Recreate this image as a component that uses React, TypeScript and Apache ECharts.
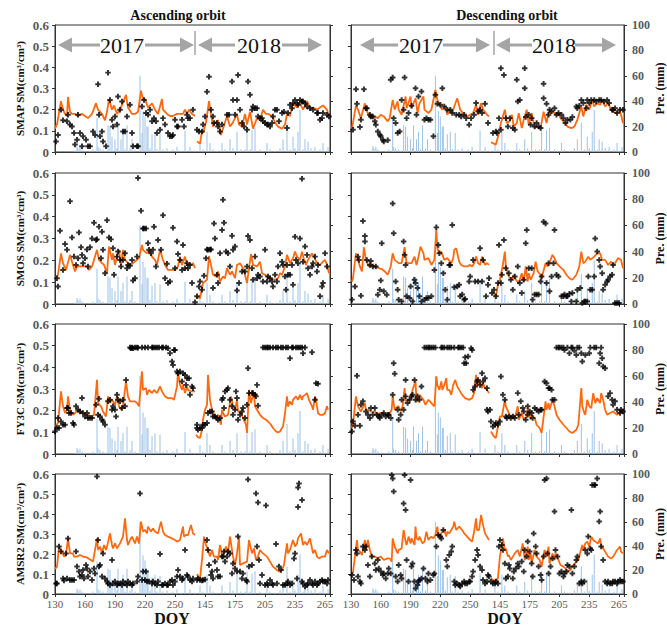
import React, { useEffect, useRef } from "react";
import * as echarts from "echarts";

type P = [number, number] | null;

const tickLabels = ["130", "160", "190", "220", "250", "145", "175", "205", "235", "265"];
const rowNames = ["SMAP SM(cm³/cm³)", "SMOS SM(cm³/cm³)", "FY3C SM(cm³/cm³)", "AMSR2 SM(cm³/cm³)"];
const colTitles = ["Ascending orbit", "Descending orbit"];
const yearLabels = ["2017", "2018"];
const rightAxisName = "Pre. (mm)";
const xAxisName = "DOY";

const precip: [number, number][] = [
  [20, 1], [22, 4.5], [23, 3], [25, 4], [27, 2], [30, 1], [35, 1], [38, 2], [42, 27], [43, 4], [45, 3], [48, 2], [50, 1],
  [53, 21], [55, 20], [57, 12], [60, 10], [62, 3], [63, 21], [66, 10], [68, 16], [70, 2], [72, 21], [75, 3], [77, 10],
  [80, 2], [85, 60], [87, 15], [88, 32], [90, 28], [92, 20], [93, 20], [95, 3], [97, 14], [100, 16], [102, 2], [105, 15],
  [108, 2], [112, 3], [115, 1], [118, 2], [122, 4], [126, 1], [130, 17], [135, 4], [140, 1], [145, 7], [148, 2], [152, 16],
  [155, 7], [158, 2], [162, 1], [167, 7], [170, 2], [175, 10], [178, 3], [182, 16], [186, 2], [190, 2], [192, 19], [195, 2],
  [197, 17], [200, 19], [205, 2], [208, 1], [212, 7], [215, 2], [220, 1], [225, 3], [228, 10], [232, 23], [235, 2], [238, 12],
  [240, 3], [243, 16], [245, 33], [248, 2], [250, 10], [253, 8], [256, 3], [260, 4], [265, 2], [268, 7], [270, 1], [273, 4],
];

const smapAscLine: P[] = [
  [0, 0.11], [2, 0.13], [6, 0.24], [8, 0.2], [10, 0.18], [12, 0.17], [13, 0.26], [15, 0.19], [17, 0.18], [20, 0.18], [23, 0.17],
  [27, 0.18], [30, 0.17], [33, 0.16], [37, 0.18], [41, 0.23], [43, 0.2], [47, 0.18], [50, 0.15], [52, 0.19], [54, 0.25], [57, 0.2],
  [59, 0.22], [62, 0.18], [65, 0.2], [71, 0.27], [73, 0.21], [77, 0.18], [80, 0.18], [83, 0.19], [86, 0.29], [88, 0.25], [90, 0.25],
  [93, 0.21], [97, 0.23], [100, 0.2], [103, 0.18], [107, 0.25], [108, 0.2], [112, 0.18], [115, 0.17], [118, 0.17], [122, 0.18],
  [125, 0.18], [128, 0.18], [130, 0.2], [132, 0.18], [134, 0.2], [137, 0.18], [140, 0.17], null,
  [142, 0.05], [145, 0.04], [147, 0.1], [148, 0.09], [151, 0.14], [154, 0.24], [156, 0.18], [158, 0.12], [160, 0.14], [163, 0.15],
  [166, 0.08], [168, 0.11], [172, 0.17], [175, 0.12], [178, 0.14], [182, 0.18], [184, 0.13], [187, 0.12], [190, 0.18], [192, 0.13],
  [195, 0.19], [198, 0.11], [202, 0.16], [205, 0.15], [208, 0.2], [211, 0.18], [213, 0.18], [217, 0.17], [220, 0.14], [223, 0.12],
  [227, 0.11], [230, 0.13], [232, 0.18], [235, 0.17], [238, 0.23], [242, 0.21], [245, 0.23], [248, 0.2], [252, 0.24], [255, 0.21],
  [258, 0.21], [262, 0.2], [265, 0.21], [268, 0.22], [272, 0.2], [274, 0.17],
];
const smapAscPts: [number, number][] = [
  [1, 0.05], [3, 0.08], [6, 0.2], [8, 0.15], [12, 0.145], [13, 0.176], [15, 0.13], [17, 0.12], [19, 0.09], [20, 0.035], [22, 0.058],
  [23, 0.176], [25, 0.09], [27, 0.027], [28, 0.074], [31, 0.058], [33, 0.027], [35, 0.027], [38, 0.097], [40, 0.08], [43, 0.32],
  [44, 0.176], [45, 0.074], [47, 0.097], [48, 0.05], [51, 0.027], [53, 0.375], [55, 0.246], [57, 0.152], [58, 0.12], [60, 0.168],
  [62, 0.13], [63, 0.262], [65, 0.2], [67, 0.239], [68, 0.097], [70, 0.097], [72, 0.168], [75, 0.223], [77, 0.09], [78, 0.027],
  [82, 0.027], [83, 0.027], [87, 0.215], [89, 0.246], [91, 0.184], [93, 0.176], [95, 0.2], [97, 0.145], [99, 0.16], [101, 0.145],
  [102, 0.09], [105, 0.105], [108, 0.16], [110, 0.13], [113, 0.09], [115, 0.074], [117, 0.074], [118, 0.08], [120, 0.152],
  [122, 0.12], [123, 0.12], [127, 0.152], [129, 0.12], [132, 0.176], [133, 0.16], [135, 0.16], [138, 0.2],
  [142, 0.105], [144, 0.097], [147, 0.097], [148, 0.13], [150, 0.168], [152, 0.285], [154, 0.356], [156, 0.2], [158, 0.168],
  [159, 0.137], [162, 0.137], [163, 0.12], [165, 0.097], [167, 0.13], [172, 0.176], [174, 0.176], [177, 0.333], [178, 0.246],
  [180, 0.176], [182, 0.246], [183, 0.364], [185, 0.2], [187, 0.137], [189, 0.12], [192, 0.105], [193, 0.333], [195, 0.27],
  [197, 0.2], [198, 0.215], [200, 0.207], [202, 0.207], [203, 0.168], [205, 0.16], [207, 0.16], [208, 0.145], [210, 0.137],
  [212, 0.13], [213, 0.13], [215, 0.12], [217, 0.137], [218, 0.168], [220, 0.2], [222, 0.2], [224, 0.145], [227, 0.184],
  [229, 0.19], [232, 0.113], [233, 0.184], [235, 0.223], [237, 0.207], [238, 0.23], [240, 0.246], [242, 0.23], [243, 0.223],
  [245, 0.246], [247, 0.239], [248, 0.239], [250, 0.23], [252, 0.215], [255, 0.207], [258, 0.2], [262, 0.184], [263, 0.184],
  [265, 0.152], [267, 0.16], [268, 0.184], [272, 0.176], [274, 0.168],
];

const smapDesLine: P[] = [
  [1, 0.11], [5, 0.22], [7, 0.2], [10, 0.16], [14, 0.23], [15, 0.2], [18, 0.176], [20, 0.16], [24, 0.168], [27, 0.16], [30, 0.176],
  [33, 0.168], [37, 0.145], [39, 0.16], [42, 0.246], [44, 0.2], [47, 0.239], [48, 0.2], [51, 0.176], [55, 0.262], [56, 0.207],
  [60, 0.262], [61, 0.207], [65, 0.254], [67, 0.184], [69, 0.23], [73, 0.262], [74, 0.2], [78, 0.184], [81, 0.2], [85, 0.293],
  [87, 0.246], [89, 0.223], [92, 0.2], [95, 0.215], [97, 0.176], [100, 0.2], [102, 0.184], [104, 0.215], [107, 0.254], [110, 0.2],
  [114, 0.176], [117, 0.168], [120, 0.176], [123, 0.184], [126, 0.223], [128, 0.176], [131, 0.23], [133, 0.2], [137, 0.176],
  [139, 0.168], null,
  [141, 0.046], [146, 0.035], [149, 0.09], [151, 0.137], [155, 0.2], [157, 0.137], [160, 0.145], [162, 0.176], [164, 0.12],
  [167, 0.137], [169, 0.184], [172, 0.113], [174, 0.152], [177, 0.2], [179, 0.129], [182, 0.184], [185, 0.113], [187, 0.12],
  [191, 0.113], [194, 0.19], [197, 0.137], [199, 0.19], [201, 0.184], [204, 0.19], [206, 0.176], [209, 0.184], [211, 0.16],
  [214, 0.145], [216, 0.137], [218, 0.12], [222, 0.113], [225, 0.12], [228, 0.152], [232, 0.215], [234, 0.168], [237, 0.223],
  [240, 0.2], [243, 0.246], [245, 0.215], [248, 0.23], [251, 0.223], [253, 0.246], [256, 0.215], [259, 0.23], [262, 0.2],
  [264, 0.19], [268, 0.184], [270, 0.2], [272, 0.176], [274, 0.137],
];
const smapDesPts: [number, number][] = [
  [2, 0.105], [5, 0.297], [6, 0.228], [9, 0.118], [10, 0.152], [13, 0.297], [15, 0.207], [16, 0.207], [19, 0.176], [20, 0.168],
  [22, 0.168], [24, 0.145], [25, 0.129], [27, 0.097], [29, 0.082], [30, 0.074], [32, 0.058], [33, 0.05], [37, 0.055], [40, 0.341],
  [42, 0.352], [43, 0.16], [45, 0.137], [47, 0.09], [49, 0.097], [51, 0.246], [53, 0.2], [54, 0.352], [56, 0.16], [58, 0.184],
  [61, 0.218], [65, 0.301], [66, 0.176], [68, 0.262], [71, 0.286], [74, 0.152], [76, 0.16], [78, 0.152], [80, 0.152], [83, 0.074],
  [85, 0.27], [87, 0.228], [90, 0.223], [92, 0.301], [94, 0.215], [97, 0.2], [100, 0.2], [102, 0.184], [106, 0.176], [109, 0.176],
  [111, 0.168], [114, 0.176], [116, 0.16], [119, 0.129], [121, 0.16], [124, 0.176], [126, 0.231], [128, 0.192], [130, 0.2],
  [132, 0.184], [135, 0.228], [138, 0.137],
  [143, 0.09], [146, 0.097], [147, 0.09], [149, 0.16], [151, 0.396], [151, 0.105], [154, 0.364], [156, 0.16], [158, 0.121],
  [160, 0.16], [163, 0.113], [165, 0.105], [167, 0.341], [168, 0.239], [170, 0.246], [175, 0.396], [175, 0.301], [176, 0.165],
  [179, 0.176], [181, 0.129], [182, 0.16], [185, 0.121], [187, 0.137], [189, 0.121], [191, 0.113], [194, 0.322], [194, 0.254],
  [197, 0.228], [199, 0.176], [200, 0.2], [202, 0.192], [205, 0.207], [207, 0.176], [209, 0.184], [212, 0.176], [214, 0.16],
  [216, 0.137], [218, 0.152], [221, 0.152], [223, 0.165], [227, 0.215], [228, 0.207], [230, 0.218], [232, 0.246], [234, 0.231],
  [237, 0.207], [238, 0.246], [240, 0.231], [242, 0.246], [245, 0.246], [247, 0.239], [250, 0.246], [252, 0.246], [255, 0.239],
  [258, 0.246], [260, 0.231], [263, 0.2], [264, 0.2], [266, 0.207], [268, 0.184], [271, 0.2], [274, 0.2],
];

const smosAscLine: P[] = [
  [1, 0.118], [3, 0.134], [6, 0.232], [8, 0.187], [11, 0.156], [15, 0.225], [18, 0.179], [20, 0.149], [22, 0.172], [25, 0.172],
  [28, 0.172], [32, 0.172], [34, 0.156], [37, 0.172], [42, 0.248], [44, 0.202], [47, 0.187], [49, 0.179], [52, 0.141], [54, 0.263],
  [57, 0.202], [58, 0.232], [60, 0.179], [62, 0.217], [64, 0.248], [66, 0.179], [68, 0.248], [70, 0.202], [73, 0.187], [75, 0.179],
  [78, 0.187], [82, 0.202], [84, 0.21], [87, 0.27], [88, 0.248], [92, 0.232], [94, 0.248], [97, 0.217], [100, 0.202], [102, 0.179],
  [105, 0.248], [108, 0.202], [110, 0.179], [113, 0.156], [117, 0.156], [120, 0.156], [123, 0.172], [125, 0.217], [127, 0.179],
  [130, 0.217], [132, 0.179], [135, 0.179], [138, 0.187], [140, 0.164], null,
  [141, 0.035], [145, 0.027], [148, 0.096], [152, 0.111], [154, 0.22], [157, 0.156], [158, 0.134], [161, 0.126], [163, 0.149],
  [165, 0.103], [168, 0.126], [170, 0.118], [172, 0.164], [175, 0.134], [177, 0.149], [180, 0.118], [182, 0.179], [185, 0.187],
  [188, 0.164], [190, 0.134], [192, 0.096], [196, 0.229], [198, 0.179], [202, 0.172], [205, 0.194], [207, 0.141], [210, 0.134],
  [214, 0.118], [220, 0.111], [223, 0.118], [225, 0.141], [227, 0.134], [230, 0.172], [232, 0.225], [235, 0.187], [238, 0.21],
  [240, 0.24], [242, 0.217], [245, 0.202], [247, 0.24], [249, 0.202], [251, 0.179], [253, 0.202], [257, 0.232], [259, 0.217],
  [262, 0.187], [265, 0.179], [268, 0.194], [270, 0.202], [272, 0.179], [274, 0.141],
];
const smosAscPts: [number, number][] = [
  [2, 0.118], [3, 0.08], [5, 0.336], [8, 0.156], [10, 0.275], [12, 0.248], [15, 0.471], [17, 0.305], [19, 0.217], [21, 0.179],
  [23, 0.21], [24, 0.327], [26, 0.26], [27, 0.225], [28, 0.187], [30, 0.21], [32, 0.25], [33, 0.172], [35, 0.26], [37, 0.3],
  [39, 0.372], [41, 0.293], [42, 0.296], [44, 0.354], [46, 0.21], [47, 0.331], [48, 0.248], [50, 0.141], [52, 0.384], [54, 0.305],
  [56, 0.296], [58, 0.255], [59, 0.134], [62, 0.217], [63, 0.24], [65, 0.202], [66, 0.172], [68, 0.202], [70, 0.232], [72, 0.164],
  [73, 0.179], [75, 0.175], [77, 0.202], [78, 0.108], [80, 0.118], [82, 0.217], [83, 0.577], [86, 0.427], [88, 0.346], [89, 0.346],
  [91, 0.346], [93, 0.278], [94, 0.248], [96, 0.232], [98, 0.248], [99, 0.354], [101, 0.172], [103, 0.293], [106, 0.248],
  [108, 0.407], [110, 0.118], [112, 0.184], [113, 0.096], [115, 0.103], [118, 0.349], [120, 0.164], [122, 0.286], [123, 0.229],
  [125, 0.202], [127, 0.156], [128, 0.27], [130, 0.164], [132, 0.187], [133, 0.164], [135, 0.179], [137, 0.096], [140, 0.008],
  [142, 0.035], [144, 0.08], [145, 0.103], [147, 0.065], [149, 0.129], [151, 0.21], [152, 0.25], [153, 0.248], [155, 0.25],
  [156, 0.25], [158, 0.073], [159, 0.369], [160, 0.3], [162, 0.134], [163, 0.096], [165, 0.232], [167, 0.339], [168, 0.478],
  [169, 0.372], [171, 0.24], [173, 0.232], [175, 0.172], [177, 0.313], [178, 0.248], [180, 0.263], [182, 0.062], [184, 0.096],
  [187, 0.149], [190, 0.149], [192, 0.172], [193, 0.311], [195, 0.293], [197, 0.164], [198, 0.111], [200, 0.217], [202, 0.118],
  [203, 0.134], [205, 0.126], [208, 0.103], [210, 0.248], [212, 0.103], [213, 0.126], [215, 0.118], [217, 0.103], [218, 0.08],
  [220, 0.134], [222, 0.103], [223, 0.172], [225, 0.232], [227, 0.194], [228, 0.179], [230, 0.126], [231, 0.065], [232, 0.179],
  [233, 0.134], [235, 0.134], [237, 0.179], [238, 0.088], [240, 0.308], [241, 0.202], [243, 0.187], [245, 0.3], [247, 0.574],
  [248, 0.194], [250, 0.263], [252, 0.225], [253, 0.164], [255, 0.134], [257, 0.172], [258, 0.187], [260, 0.217], [262, 0.149],
  [263, 0.179], [265, 0.035], [267, 0.08], [268, 0.096], [270, 0.232], [272, 0.172],
];

const smosDesLine: P[] = [
  [1, 0.103], [2, 0.118], [5, 0.232], [7, 0.202], [9, 0.172], [11, 0.149], [13, 0.26], [15, 0.202], [18, 0.172], [20, 0.179],
  [23, 0.172], [25, 0.172], [28, 0.164], [31, 0.16], [34, 0.149], [37, 0.134], [40, 0.172], [42, 0.232], [44, 0.202], [48, 0.187],
  [51, 0.187], [54, 0.26], [56, 0.187], [59, 0.187], [61, 0.187], [64, 0.217], [66, 0.179], [68, 0.217], [70, 0.263], [73, 0.232],
  [74, 0.202], [78, 0.21], [81, 0.179], [84, 0.202], [86, 0.339], [87, 0.255], [89, 0.232], [91, 0.24], [94, 0.202], [97, 0.21],
  [101, 0.187], [103, 0.21], [104, 0.248], [106, 0.255], [109, 0.194], [111, 0.179], [114, 0.172], [117, 0.172], [120, 0.179],
  [122, 0.172], [124, 0.187], [126, 0.217], [128, 0.187], [130, 0.179], [132, 0.217], [135, 0.179], [137, 0.187], [139, 0.179], null,
  [143, 0.053], [146, 0.035], [148, 0.088], [150, 0.111], [153, 0.179], [155, 0.24], [156, 0.172], [159, 0.126], [162, 0.111],
  [164, 0.134], [166, 0.111], [169, 0.096], [172, 0.141], [174, 0.103], [176, 0.172], [178, 0.103], [179, 0.141], [181, 0.111],
  [184, 0.141], [186, 0.194], [188, 0.149], [191, 0.134], [192, 0.118], [196, 0.187], [198, 0.172], [201, 0.202], [203, 0.225],
  [205, 0.21], [207, 0.187], [210, 0.172], [214, 0.156], [217, 0.134], [220, 0.118], [223, 0.111], [227, 0.134], [230, 0.172],
  [232, 0.24], [234, 0.187], [236, 0.194], [239, 0.217], [241, 0.202], [245, 0.217], [248, 0.232], [251, 0.232], [253, 0.202],
  [256, 0.202], [259, 0.179], [262, 0.194], [264, 0.179], [266, 0.187], [269, 0.21], [272, 0.202], [274, 0.164],
];
const smosDesPts: [number, number][] = [
  [1, 0.02], [4, 0.08], [7, 0.217], [8, 0.202], [10, 0.038], [12, 0.38], [14, 0.311], [14, 0.286], [16, 0.202], [19, 0.179],
  [20, 0.197], [22, 0.172], [25, 0.172], [27, 0.042], [29, 0.065], [30, 0.108], [31, 0.278], [33, 0.058], [36, 0.042], [42, 0.46],
  [43, 0.324], [45, 0.103], [47, 0.065], [48, 0.02], [51, 0.012], [53, 0.286], [54, 0.225], [55, 0.179], [56, 0.035], [59, 0.027],
  [60, 0.08], [62, 0.012], [64, 0.111], [65, 0.096], [67, 0.073], [69, 0.035], [71, 0.012], [74, 0.02], [76, 0.027], [78, 0.027],
  [81, 0.035], [84, 0.156], [86, 0.351], [88, 0.27], [89, 0.232], [91, 0.187], [93, 0.141], [95, 0.065], [97, 0.02], [99, 0.179],
  [100, 0.179], [102, 0.362], [104, 0.077], [107, 0.08], [109, 0.088], [110, 0.035], [112, 0.043], [114, 0.02], [115, 0.023],
  [119, 0.103], [120, 0.126], [123, 0.202], [125, 0.103], [128, 0.103], [130, 0.255], [132, 0.103], [133, 0.202], [136, 0.035],
  [138, 0.088], [139, 0.118],
  [142, 0.05], [144, 0.065], [146, 0.035], [148, 0.096], [149, 0.27], [151, 0.096], [152, 0.134], [154, 0.293], [156, 0.164],
  [159, 0.141], [161, 0.111], [163, 0.065], [165, 0.126], [168, 0.172], [170, 0.096], [172, 0.05], [174, 0.111], [176, 0.278],
  [177, 0.339], [179, 0.164], [182, 0.164], [183, 0.02], [185, 0.043], [187, 0.043], [189, 0.043], [191, 0.103], [192, 0.126],
  [194, 0.377], [196, 0.369], [197, 0.096], [199, 0.187], [200, 0.058], [202, 0.126], [204, 0.187], [205, 0.339], [207, 0.134],
  [209, 0.126], [212, 0.035], [214, 0.035], [215, 0.043], [217, 0.035], [218, 0.035], [220, 0.047], [222, 0.012], [223, 0.05],
  [227, 0.012], [228, 0.065], [231, 0.073], [233, 0.005], [235, 0.012], [236, 0.012], [238, 0.012], [239, 0.126], [241, 0.065],
  [243, 0.065], [245, 0.126], [246, 0.3], [248, 0.24], [250, 0.202], [251, 0.172], [253, 0.141], [254, 0.065], [256, 0.088],
  [258, 0.103], [259, 0.111], [261, 0.126], [263, 0.134], [264, 0.179], [266, 0.005], [268, 0.005], [270, 0.005],
];

const fy3cAscLine: P[] = [
  [1, 0.13], [3, 0.143], [6, 0.289], [8, 0.22], [10, 0.189], [12, 0.204], [13, 0.266], [15, 0.204], [18, 0.181], [20, 0.189],
  [23, 0.204], [27, 0.189], [30, 0.181], [33, 0.181], [37, 0.173], [39, 0.181], [42, 0.342], [43, 0.235], [46, 0.22], [48, 0.196],
  [51, 0.173], [53, 0.266], [55, 0.235], [57, 0.25], [60, 0.227], [62, 0.266], [64, 0.22], [66, 0.204], [68, 0.22], [71, 0.335],
  [73, 0.266], [75, 0.243], [78, 0.243], [80, 0.243], [82, 0.235], [84, 0.22], [87, 0.381], [88, 0.296], [91, 0.304], [92, 0.273],
  [94, 0.296], [97, 0.281], [99, 0.296], [102, 0.281], [105, 0.312], [107, 0.289], [110, 0.266], [113, 0.258], [117, 0.258],
  [119, 0.25], [122, 0.312], [123, 0.381], [125, 0.319], [127, 0.296], [128, 0.319], [130, 0.281], [132, 0.312], [133, 0.296],
  [136, 0.289], [138, 0.289], [140, 0.289], null,
  [141, 0.089], [143, 0.078], [145, 0.074], [147, 0.112], [148, 0.158], [150, 0.204], [152, 0.227], [153, 0.365], [155, 0.25],
  [157, 0.204], [158, 0.189], [161, 0.166], [163, 0.181], [166, 0.135], [167, 0.204], [168, 0.189], [170, 0.173], [173, 0.181],
  [176, 0.266], [178, 0.22], [180, 0.204], [182, 0.25], [183, 0.196], [186, 0.189], [188, 0.166], [191, 0.135], [192, 0.097],
  [194, 0.296], [196, 0.235], [198, 0.273], [199, 0.281], [200, 0.22], [202, 0.204], [205, 0.181], [208, 0.166], [211, 0.158],
  [213, 0.15], [216, 0.135], [218, 0.12], [221, 0.104], [223, 0.1], [225, 0.104], [227, 0.12], [228, 0.127], [230, 0.189],
  [232, 0.266], [233, 0.22], [235, 0.243], [237, 0.227], [238, 0.25], [241, 0.266], [243, 0.25], [245, 0.273], [247, 0.25],
  [248, 0.266], [250, 0.273], [252, 0.281], [254, 0.25], [257, 0.22], [258, 0.204], [260, 0.266], [261, 0.25], [263, 0.189],
  [265, 0.181], [268, 0.181], [270, 0.189], [272, 0.22], [273, 0.204],
];
const fy3cAscPts: [number, number][] = [
  [0, 0.104], [2, 0.12], [3, 0.166], [4, 0.12], [6, 0.15], [8, 0.135], [10, 0.135], [12, 0.212], [13, 0.212], [14, 0.189],
  [16, 0.189], [18, 0.143], [19, 0.135], [21, 0.22], [23, 0.204], [25, 0.196], [27, 0.258], [28, 0.189], [30, 0.173], [32, 0.189],
  [33, 0.166], [35, 0.166], [37, 0.166], [41, 0.227], [43, 0.181], [44, 0.255], [45, 0.173], [47, 0.158], [48, 0.15], [50, 0.135],
  [53, 0.243], [55, 0.25], [57, 0.204], [58, 0.22], [60, 0.204], [61, 0.173], [62, 0.273], [63, 0.25], [65, 0.243], [67, 0.212],
  [68, 0.25], [70, 0.22], [71, 0.342],
  [75, 0.492], [76, 0.488], [77, 0.492], [78, 0.488], [80, 0.492], [82, 0.492], [83, 0.49], [87, 0.492], [90, 0.492], [93, 0.492],
  [97, 0.492], [98, 0.492], [100, 0.492], [102, 0.492], [104, 0.492], [107, 0.492], [108, 0.492], [111, 0.492], [113, 0.488],
  [115, 0.465], [117, 0.427], [118, 0.411], [119, 0.48], [120, 0.48],
  [122, 0.381], [123, 0.373], [125, 0.381], [127, 0.335], [128, 0.373], [130, 0.365], [131, 0.319], [132, 0.35], [134, 0.35],
  [135, 0.273], [137, 0.312], [138, 0.304],
  [142, 0.135], [142, 0.12], [143, 0.112], [145, 0.12], [147, 0.12], [148, 0.135], [150, 0.135], [152, 0.143], [153, 0.189],
  [155, 0.196], [157, 0.196], [158, 0.173], [160, 0.173], [162, 0.166], [163, 0.158], [165, 0.166], [167, 0.25], [168, 0.258],
  [169, 0.212], [170, 0.289], [172, 0.296], [173, 0.304], [175, 0.25], [177, 0.22], [178, 0.181], [180, 0.204], [181, 0.289],
  [182, 0.258], [183, 0.158], [185, 0.181], [187, 0.196], [188, 0.212], [190, 0.166], [192, 0.227], [193, 0.396], [194, 0.281],
  [197, 0.281], [198, 0.281], [200, 0.273], [201, 0.266], [202, 0.319], [203, 0.223],
  [208, 0.492], [210, 0.492], [212, 0.492], [213, 0.492], [215, 0.492], [218, 0.492], [221, 0.492], [223, 0.492], [226, 0.492],
  [228, 0.492], [231, 0.492], [233, 0.492], [235, 0.442], [237, 0.492], [238, 0.492], [241, 0.492], [243, 0.492], [245, 0.492],
  [247, 0.492], [248, 0.465], [250, 0.492], [257, 0.47], [260, 0.25], [261, 0.327], [263, 0.324],
];

const fy3cDesLine: P[] = [
  [1, 0.12], [2, 0.135], [5, 0.266], [7, 0.22], [10, 0.196], [14, 0.235], [15, 0.204], [18, 0.204], [20, 0.196], [24, 0.196],
  [27, 0.181], [29, 0.189], [32, 0.189], [35, 0.181], [38, 0.181], [41, 0.204], [42, 0.266], [44, 0.204], [47, 0.22], [48, 0.22],
  [50, 0.196], [52, 0.22], [54, 0.304], [55, 0.243], [57, 0.25], [60, 0.25], [62, 0.296], [65, 0.335], [66, 0.243], [68, 0.243],
  [69, 0.273], [73, 0.25], [75, 0.227], [78, 0.25], [81, 0.235], [84, 0.22], [86, 0.358], [87, 0.319], [89, 0.296], [91, 0.335],
  [92, 0.296], [94, 0.319], [96, 0.35], [97, 0.296], [99, 0.296], [101, 0.273], [103, 0.319], [105, 0.342], [107, 0.312],
  [109, 0.296], [112, 0.273], [115, 0.258], [119, 0.25], [122, 0.258], [124, 0.281], [126, 0.365], [127, 0.312], [130, 0.335],
  [132, 0.304], [133, 0.327], [135, 0.304], [137, 0.296], [139, 0.281], null,
  [141, 0.104], [144, 0.081], [146, 0.074], [148, 0.127], [150, 0.173], [152, 0.173], [155, 0.25], [156, 0.22], [159, 0.189],
  [161, 0.166], [163, 0.181], [165, 0.166], [168, 0.22], [169, 0.158], [172, 0.189], [174, 0.158], [177, 0.173], [178, 0.212],
  [181, 0.158], [182, 0.181], [185, 0.166], [187, 0.135], [190, 0.12], [192, 0.097], [196, 0.243], [197, 0.204], [199, 0.235],
  [200, 0.204], [203, 0.25], [205, 0.22], [207, 0.181], [210, 0.158], [214, 0.135], [217, 0.12], [220, 0.104], [223, 0.097],
  [227, 0.112], [229, 0.135], [232, 0.304], [233, 0.22], [235, 0.189], [236, 0.181], [238, 0.25], [240, 0.22], [242, 0.212],
  [244, 0.281], [246, 0.235], [248, 0.258], [251, 0.235], [252, 0.281], [254, 0.25], [256, 0.204], [258, 0.181], [261, 0.189],
  [264, 0.196], [268, 0.181], [270, 0.189], [272, 0.204], [274, 0.189],
];
const fy3cDesPts: [number, number][] = [
  [1, 0.104], [2, 0.15], [4, 0.13], [6, 0.361], [7, 0.181], [9, 0.13], [10, 0.227], [12, 0.243], [15, 0.196], [17, 0.181],
  [19, 0.166], [20, 0.212], [22, 0.181], [24, 0.212], [26, 0.181], [28, 0.173], [29, 0.166], [31, 0.181], [33, 0.189], [35, 0.173],
  [37, 0.181], [38, 0.181], [40, 0.166], [42, 0.273], [43, 0.419], [44, 0.37], [47, 0.204], [48, 0.158], [50, 0.181], [51, 0.25],
  [53, 0.204], [55, 0.266], [55, 0.342], [57, 0.235], [59, 0.25], [61, 0.266], [62, 0.273], [64, 0.342], [65, 0.25], [67, 0.266],
  [69, 0.25], [71, 0.312],
  [74, 0.491], [76, 0.491], [78, 0.491], [79, 0.491], [81, 0.491], [83, 0.491], [85, 0.491], [91, 0.491], [92, 0.491], [94, 0.491],
  [97, 0.491], [99, 0.491], [101, 0.491], [104, 0.491], [108, 0.491], [109, 0.491], [111, 0.491], [113, 0.491],
  [114, 0.419], [115, 0.447], [116, 0.419], [118, 0.45], [121, 0.488], [122, 0.48],
  [123, 0.296], [125, 0.312], [127, 0.335], [128, 0.342], [130, 0.319], [132, 0.373], [133, 0.335], [135, 0.35], [137, 0.304],
  [137, 0.204], [138, 0.196], [140, 0.204],
  [141, 0.15], [143, 0.127], [145, 0.135], [146, 0.143], [148, 0.135], [150, 0.15], [151, 0.358], [153, 0.273], [155, 0.25],
  [156, 0.173], [157, 0.166], [159, 0.173], [161, 0.166], [163, 0.173], [165, 0.166], [168, 0.281], [169, 0.181], [171, 0.243],
  [173, 0.212], [174, 0.196], [176, 0.158], [178, 0.181], [178, 0.22], [180, 0.196], [182, 0.189], [183, 0.166], [185, 0.212],
  [187, 0.204], [189, 0.196], [191, 0.204], [192, 0.204], [195, 0.335], [197, 0.327], [199, 0.304], [200, 0.304], [202, 0.296],
  [203, 0.25], [205, 0.25],
  [207, 0.491], [209, 0.491], [210, 0.491], [212, 0.491], [214, 0.491], [215, 0.48], [218, 0.491], [220, 0.465], [222, 0.491],
  [223, 0.491], [225, 0.477], [227, 0.457], [228, 0.491], [230, 0.491], [232, 0.465], [233, 0.427], [236, 0.457], [240, 0.465],
  [241, 0.491], [245, 0.491], [247, 0.491], [250, 0.419], [251, 0.465], [252, 0.491], [253, 0.442], [254, 0.404], [256, 0.396],
  [259, 0.266], [261, 0.281], [263, 0.25], [264, 0.227], [266, 0.243], [268, 0.204], [271, 0.189], [272, 0.204], [274, 0.196],
];

const amsr2AscLine: P[] = [
  [0, 0.125], [2, 0.137], [4, 0.237], [7, 0.212], [9, 0.187], [11, 0.195], [13, 0.278], [15, 0.203], [18, 0.203], [19, 0.187],
  [22, 0.187], [25, 0.195], [28, 0.187], [32, 0.183], [35, 0.173], [38, 0.162], [42, 0.278], [43, 0.22], [45, 0.237], [47, 0.203],
  [49, 0.245], [51, 0.22], [52, 0.237], [55, 0.303], [57, 0.245], [58, 0.228], [60, 0.253], [62, 0.228], [65, 0.253], [68, 0.287],
  [70, 0.378], [72, 0.27], [73, 0.245], [75, 0.27], [77, 0.287], [80, 0.253], [82, 0.287], [84, 0.253], [86, 0.362], [88, 0.312],
  [90, 0.32], [92, 0.303], [93, 0.337], [96, 0.312], [98, 0.328], [100, 0.312], [103, 0.303], [106, 0.362], [108, 0.312],
  [110, 0.295], [113, 0.287], [117, 0.278], [120, 0.27], [122, 0.262], [125, 0.27], [128, 0.337], [129, 0.287], [131, 0.295],
  [133, 0.295], [136, 0.345], [138, 0.303], [140, 0.295], null,
  [142, 0.1], [143, 0.09], [145, 0.078], [147, 0.17], [149, 0.287], [151, 0.245], [153, 0.22], [155, 0.187], [157, 0.22],
  [159, 0.187], [162, 0.187], [163, 0.17], [165, 0.245], [167, 0.195], [168, 0.187], [171, 0.237], [173, 0.203], [175, 0.287],
  [178, 0.187], [180, 0.145], [182, 0.203], [184, 0.287], [185, 0.145], [188, 0.153], [192, 0.162], [194, 0.27], [197, 0.203],
  [199, 0.228], [201, 0.17], [203, 0.187], [205, 0.22], [208, 0.203], [212, 0.187], [215, 0.162], [218, 0.137], [222, 0.12],
  [224, 0.112], [227, 0.12], [229, 0.145], [232, 0.253], [233, 0.203], [235, 0.22], [238, 0.27], [240, 0.237], [242, 0.253],
  [243, 0.278], [246, 0.303], [248, 0.245], [250, 0.262], [252, 0.245], [255, 0.278], [257, 0.228], [258, 0.203], [260, 0.22],
  [262, 0.187], [264, 0.178], [267, 0.187], [270, 0.187], [272, 0.22], [274, 0.203],
];
const amsr2AscPts: [number, number][] = [
  [1, 0.053], [2, 0.053], [4, 0.237], [6, 0.212], [8, 0.078], [9, 0.067], [11, 0.203], [12, 0.078], [13, 0.278], [15, 0.07],
  [17, 0.07], [19, 0.07], [21, 0.212], [22, 0.137], [24, 0.112], [25, 0.087], [27, 0.095], [28, 0.12], [29, 0.078], [31, 0.145],
  [32, 0.128], [33, 0.087], [35, 0.112], [37, 0.07], [39, 0.128], [40, 0.103], [42, 0.587], [43, 0.27], [44, 0.137], [45, 0.145],
  [47, 0.087], [48, 0.203], [50, 0.078], [52, 0.062], [53, 0.053], [55, 0.045], [57, 0.17], [58, 0.053], [60, 0.062], [62, 0.045],
  [63, 0.053], [65, 0.053], [67, 0.045], [68, 0.062], [70, 0.053], [72, 0.045], [73, 0.062], [75, 0.053], [77, 0.045], [78, 0.053],
  [82, 0.062], [83, 0.087], [85, 0.503], [87, 0.07], [88, 0.112], [90, 0.07], [91, 0.112], [92, 0.062], [94, 0.062], [97, 0.053],
  [98, 0.062], [100, 0.053], [102, 0.045], [103, 0.062], [105, 0.2], [107, 0.045], [108, 0.045], [110, 0.053], [112, 0.045],
  [113, 0.045], [115, 0.062], [117, 0.07], [118, 0.045], [120, 0.062], [122, 0.087], [123, 0.12], [125, 0.087], [127, 0.07],
  [128, 0.078], [130, 0.22], [132, 0.095], [133, 0.087], [135, 0.07], [137, 0.062], [138, 0.078],
  [142, 0.07], [143, 0.078], [145, 0.07], [147, 0.067], [148, 0.07], [150, 0.073], [152, 0.27], [153, 0.22], [154, 0.145],
  [156, 0.095], [157, 0.112], [158, 0.078], [160, 0.162], [162, 0.12], [163, 0.087], [165, 0.087], [167, 0.187], [168, 0.187],
  [169, 0.212], [170, 0.162], [172, 0.187], [173, 0.212], [175, 0.203], [177, 0.103], [178, 0.153], [180, 0.128], [182, 0.112],
  [183, 0.287], [185, 0.112], [187, 0.078], [188, 0.103], [191, 0.07], [192, 0.062], [193, 0.573], [194, 0.137], [197, 0.145],
  [201, 0.503], [203, 0.458], [202, 0.237], [204, 0.17], [205, 0.053], [207, 0.095], [211, 0.442], [210, 0.045], [212, 0.053],
  [213, 0.045], [215, 0.07], [217, 0.053], [218, 0.045], [221, 0.25], [222, 0.053], [224, 0.137], [226, 0.12], [228, 0.045],
  [230, 0.045], [232, 0.053], [233, 0.062], [235, 0.045], [237, 0.053], [243, 0.435], [239, 0.178], [240, 0.203], [242, 0.078],
  [243, 0.533], [244, 0.553], [247, 0.47], [247, 0.062], [248, 0.053], [250, 0.037], [252, 0.045], [253, 0.053], [255, 0.07],
  [257, 0.053], [258, 0.045], [260, 0.062], [262, 0.045], [263, 0.053], [265, 0.062], [267, 0.07], [268, 0.062], [270, 0.062],
  [272, 0.053], [273, 0.07],
];

const amsr2DesLine: P[] = [
  [1, 0.095], [2, 0.107], [6, 0.27], [7, 0.22], [9, 0.212], [11, 0.195], [14, 0.27], [15, 0.22], [17, 0.27], [19, 0.22],
  [21, 0.187], [24, 0.187], [27, 0.178], [30, 0.187], [33, 0.17], [37, 0.178], [39, 0.178], [41, 0.162], [42, 0.278], [44, 0.237],
  [47, 0.203], [48, 0.22], [51, 0.228], [53, 0.32], [55, 0.262], [56, 0.245], [58, 0.287], [60, 0.253], [61, 0.278], [64, 0.245],
  [65, 0.337], [66, 0.278], [68, 0.27], [69, 0.287], [72, 0.253], [74, 0.262], [76, 0.312], [78, 0.27], [79, 0.278], [81, 0.287],
  [83, 0.278], [85, 0.295], [87, 0.337], [88, 0.287], [90, 0.295], [92, 0.312], [94, 0.32], [96, 0.287], [97, 0.312], [99, 0.303],
  [101, 0.32], [103, 0.337], [104, 0.362], [106, 0.32], [109, 0.337], [112, 0.32], [114, 0.303], [117, 0.287], [120, 0.27],
  [122, 0.262], [124, 0.312], [126, 0.378], [127, 0.32], [129, 0.32], [131, 0.395], [133, 0.345], [135, 0.303], [137, 0.287],
  [138, 0.278], [139, 0.27], null,
  [141, 0.078], [143, 0.07], [146, 0.067], [148, 0.078], [150, 0.187], [153, 0.278], [155, 0.22], [156, 0.228], [158, 0.187],
  [159, 0.195], [161, 0.17], [163, 0.187], [165, 0.203], [168, 0.22], [170, 0.187], [173, 0.253], [175, 0.17], [178, 0.237],
  [179, 0.17], [181, 0.203], [182, 0.153], [185, 0.22], [187, 0.187], [190, 0.17], [192, 0.137], [195, 0.22], [197, 0.187],
  [199, 0.237], [200, 0.153], [203, 0.203], [205, 0.17], [206, 0.203], [209, 0.17], [211, 0.145], [214, 0.137], [216, 0.128],
  [218, 0.112], [221, 0.12], [223, 0.137], [227, 0.162], [229, 0.17], [232, 0.228], [233, 0.245], [234, 0.22], [236, 0.253],
  [238, 0.262], [240, 0.237], [242, 0.287], [244, 0.27], [246, 0.262], [249, 0.253], [251, 0.278], [252, 0.237], [254, 0.228],
  [257, 0.203], [259, 0.187], [262, 0.178], [264, 0.187], [266, 0.203], [268, 0.22], [271, 0.237], [272, 0.212], [274, 0.203],
];
const amsr2DesPts: [number, number][] = [
  [1, 0.095], [3, 0.07], [5, 0.22], [6, 0.203], [7, 0.087], [9, 0.062], [10, 0.053], [12, 0.237], [14, 0.22], [15, 0.237],
  [17, 0.145], [19, 0.087], [21, 0.187], [24, 0.153], [25, 0.12], [27, 0.17], [28, 0.128], [30, 0.112], [32, 0.095], [33, 0.103],
  [35, 0.078], [37, 0.103], [38, 0.128], [40, 0.103], [41, 0.595], [42, 0.578], [43, 0.512], [45, 0.087], [47, 0.062], [48, 0.145],
  [50, 0.095], [51, 0.078], [53, 0.453], [54, 0.595], [55, 0.42], [56, 0.17], [58, 0.062], [60, 0.57], [61, 0.137], [62, 0.153],
  [64, 0.062], [65, 0.028], [67, 0.045], [68, 0.062], [69, 0.07], [71, 0.078], [73, 0.128], [75, 0.078], [77, 0.062], [78, 0.103],
  [80, 0.07], [83, 0.095], [84, 0.103], [86, 0.237], [88, 0.295], [90, 0.287], [91, 0.278], [93, 0.32], [96, 0.17], [97, 0.137],
  [99, 0.195], [101, 0.212], [102, 0.237], [104, 0.062], [105, 0.045], [107, 0.053], [109, 0.045], [110, 0.037], [112, 0.053],
  [114, 0.062], [115, 0.053], [117, 0.053], [119, 0.062], [120, 0.062], [122, 0.087], [123, 0.112], [125, 0.17], [127, 0.22],
  [128, 0.195], [130, 0.137], [132, 0.12], [133, 0.07], [135, 0.053], [137, 0.062], [138, 0.095], [139, 0.087],
  [141, 0.062], [143, 0.053], [145, 0.053], [146, 0.062], [148, 0.053], [149, 0.237], [150, 0.27], [152, 0.245], [153, 0.22],
  [155, 0.153], [156, 0.078], [158, 0.087], [159, 0.145], [160, 0.128], [163, 0.078], [164, 0.112], [166, 0.128], [168, 0.153],
  [169, 0.137], [172, 0.162], [174, 0.112], [175, 0.22], [177, 0.187], [178, 0.262], [180, 0.212], [182, 0.153], [183, 0.087],
  [184, 0.303], [186, 0.237], [187, 0.203], [189, 0.137], [191, 0.095], [192, 0.07], [194, 0.187], [195, 0.57], [197, 0.578],
  [198, 0.203], [199, 0.103], [201, 0.137], [203, 0.178], [205, 0.412], [206, 0.22], [208, 0.187], [210, 0.103], [212, 0.112],
  [214, 0.087], [215, 0.103], [217, 0.112], [218, 0.145], [220, 0.137], [222, 0.42], [223, 0.103], [225, 0.137], [227, 0.17],
  [228, 0.187], [230, 0.053], [232, 0.062], [233, 0.053], [235, 0.062], [236, 0.22], [238, 0.203], [239, 0.287], [241, 0.228],
  [242, 0.22], [243, 0.545], [245, 0.545], [246, 0.545], [248, 0.578], [250, 0.362], [251, 0.412], [252, 0.237], [254, 0.17],
  [256, 0.062], [258, 0.053], [259, 0.062], [261, 0.053], [263, 0.053], [264, 0.062], [266, 0.062], [268, 0.053], [269, 0.062],
  [271, 0.07], [272, 0.062], [274, 0.062],
];

const panelLines = [smapAscLine, smapDesLine, smosAscLine, smosDesLine, fy3cAscLine, fy3cDesLine, amsr2AscLine, amsr2DesLine];
const panelPts = [smapAscPts, smapDesPts, smosAscPts, smosDesPts, fy3cAscPts, fy3cDesPts, amsr2AscPts, amsr2DesPts];

const FONT = '"Liberation Serif", "Times New Roman", serif';
const PLUS = "path://M3.2,0 L6.8,0 L6.8,3.2 L10,3.2 L10,6.8 L6.8,6.8 L6.8,10 L3.2,10 L3.2,6.8 L0,6.8 L0,3.2 L3.2,3.2 Z";

function segments(arr: P[]): [number, number][][] {
  const out: [number, number][][] = [[]];
  for (const p of arr) {
    if (p === null) out.push([]);
    else out[out.length - 1].push(p);
  }
  return out;
}

function arrow(tip: number, tail: number, y: number) {
  const d = tail > tip ? 1 : -1;
  const hx = tip + d * 14;
  return {
    type: "polygon",
    shape: {
      points: [
        [tip, y], [hx, y - 7.5], [hx, y - 1.6], [tail, y - 1.6], [tail, y + 1.6], [hx, y + 1.6], [hx, y + 7.5],
      ],
    },
    style: { fill: "#a5a5a5" },
    silent: true,
  };
}

function text(str: string, x: number, y: number, font: string, fill = "#111") {
  return {
    type: "text",
    x,
    y,
    silent: true,
    style: { text: str, font, fill, textAlign: "center", textVerticalAlign: "middle", align: "center", verticalAlign: "middle" },
  };
}

function buildOption() {
  const rowTop = [25, 173, 324, 474];
  const rowH = [127, 131, 130, 120];
  const colLeft = [55, 351];
  const colW = [275, 280];
  const grid: any[] = [];
  const xAxis: any[] = [];
  const yAxis: any[] = [];
  const series: any[] = [];
  const axisLine = { show: true, lineStyle: { color: "#333", width: 1 } };
  const axisTick = { show: true, length: 3, inside: false, lineStyle: { color: "#333" } };
  for (let r = 0; r < 4; r++) {
    for (let c = 0; c < 2; c++) {
      const p = r * 2 + c;
      grid.push({
        left: colLeft[c], top: rowTop[r], width: colW[c], height: rowH[r],
        show: true, borderColor: "#333", borderWidth: 1, backgroundColor: "transparent",
      });
      xAxis.push({
        type: "value", gridIndex: p, min: 0, max: 275, interval: 30,
        axisLine, axisTick, splitLine: { show: false },
        axisLabel: {
          show: r === 3, margin: 4, fontSize: 11, color: "#595959", fontFamily: FONT,
          formatter: (v: number) => {
            const i = v / 30;
            return Number.isInteger(i) && i < tickLabels.length ? tickLabels[i] : "";
          },
        },
      });
      yAxis.push({
        type: "value", gridIndex: p, min: 0, max: 0.6, interval: 0.1, position: "left",
        name: c === 0 ? rowNames[r] : "", nameLocation: "middle", nameGap: 30, nameRotate: 90,
        nameTextStyle: { fontWeight: "bold", fontSize: 11, color: "#111", fontFamily: FONT },
        axisLine, axisTick, splitLine: { show: false },
        axisLabel: {
          show: c === 0, margin: 6, fontSize: 13, fontWeight: "bold", color: "#595959", fontFamily: FONT,
          formatter: (v: number) => (v === 0 ? "0" : v.toFixed(1)),
        },
      });
      yAxis.push({
        type: "value", gridIndex: p, min: 0, max: 100, interval: 20, position: "right",
        name: c === 1 ? rightAxisName : "", nameLocation: "middle", nameGap: 30, nameRotate: 90,
        nameTextStyle: { fontWeight: "bold", fontSize: 12, color: "#111", fontFamily: FONT },
        axisLine, axisTick, splitLine: { show: false },
        axisLabel: { show: c === 1, margin: 8, fontSize: 12, fontWeight: "bold", color: "#595959", fontFamily: FONT },
      });
      series.push({
        type: "bar", xAxisIndex: p, yAxisIndex: 2 * p + 1, data: precip, barWidth: 1,
        itemStyle: { color: "#9cc3e8" }, silent: true, z: 1,
      });
      for (const seg of segments(panelLines[p])) {
        series.push({
          type: "line", xAxisIndex: p, yAxisIndex: 2 * p, data: seg, showSymbol: false, symbol: "none",
          lineStyle: { color: "#ff6a10", width: 1.8 }, silent: true, z: 2,
        });
      }
      series.push({
        type: "scatter", xAxisIndex: p, yAxisIndex: 2 * p, data: panelPts[p], symbol: PLUS, symbolSize: 5.5,
        itemStyle: { color: "#000" }, silent: true, z: 3,
      });
    }
  }

  const yearFont = `22px ${FONT}`;
  const graphic: any[] = [
    text(colTitles[0], 178, 15, `bold 14px ${FONT}`),
    text(colTitles[1], 507, 15, `bold 14px ${FONT}`),
    text(xAxisName, 172, 618, `bold 16px ${FONT}`),
    text(xAxisName, 505, 618, `bold 16px ${FONT}`),
    arrow(58, 100, 45), arrow(194, 145, 45), arrow(198, 235, 45), arrow(322, 282, 45),
    arrow(360, 398, 45), arrow(490, 443, 45), arrow(496, 532, 45), arrow(616, 575, 45),
    text(yearLabels[0], 122, 45, yearFont), text(yearLabels[1], 259, 45, yearFont),
    text(yearLabels[0], 421, 45, yearFont), text(yearLabels[1], 554, 45, yearFont),
    { type: "line", shape: { x1: 195, y1: 31, x2: 195, y2: 55 }, style: { stroke: "#a5a5a5", lineWidth: 1.5 }, silent: true },
    { type: "line", shape: { x1: 494, y1: 31, x2: 494, y2: 55 }, style: { stroke: "#a5a5a5", lineWidth: 1.5 }, silent: true },
  ];

  return {
    animation: false,
    backgroundColor: "#fff",
    textStyle: { fontFamily: FONT },
    grid, xAxis, yAxis, series, graphic,
  };
}

export default function App() {
  const ref = useRef<HTMLDivElement>(null);
  useEffect(() => {
    const chart = echarts.init(ref.current!, null, { renderer: "svg" });
    chart.setOption(buildOption() as any);
    return () => chart.dispose();
  }, []);
  return (
    <div
      ref={ref}
      style={{ position: "absolute", left: 0, top: 0, width: 667, height: 626, background: "#fff" }}
    />
  );
}
